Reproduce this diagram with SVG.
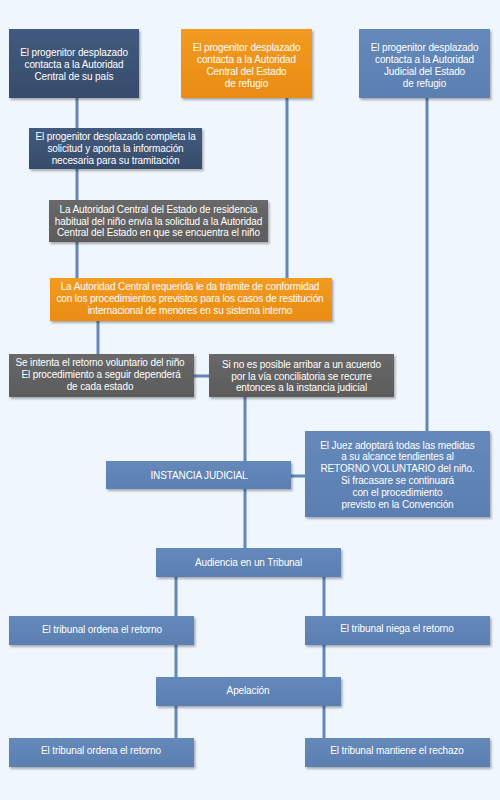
<svg xmlns="http://www.w3.org/2000/svg" width="500" height="800" viewBox="0 0 500 800">
<defs>
<filter id="sh" x="-10%" y="-10%" width="125%" height="140%">
<feDropShadow dx="1.5" dy="2" stdDeviation="1.2" flood-color="#000" flood-opacity="0.3"/>
</filter>
<linearGradient id="gNavy" x1="0" y1="0" x2="0" y2="1"><stop offset="0" stop-color="#425a7d"/><stop offset="1" stop-color="#374c6b"/></linearGradient>
<linearGradient id="gOrange" x1="0" y1="0" x2="0" y2="1"><stop offset="0" stop-color="#f39a22"/><stop offset="1" stop-color="#ea8c12"/></linearGradient>
<linearGradient id="gBlue" x1="0" y1="0" x2="0" y2="1"><stop offset="0" stop-color="#6489ba"/><stop offset="1" stop-color="#5a7fb0"/></linearGradient>
<linearGradient id="gGray" x1="0" y1="0" x2="0" y2="1"><stop offset="0" stop-color="#686868"/><stop offset="1" stop-color="#5c5c5c"/></linearGradient>
</defs>
<style>
.navy{fill:url(#gNavy);filter:url(#sh)}
.orange{fill:url(#gOrange);filter:url(#sh)}
.blue{fill:url(#gBlue);filter:url(#sh)}
.gray{fill:url(#gGray);filter:url(#sh)}
text{font-family:"Liberation Sans",Arial,sans-serif;font-size:10px;letter-spacing:-0.12px;fill:#ffffff;text-anchor:middle}
.c{stroke:#6487b8;stroke-width:3;fill:none}
</style>
<rect width="500" height="800" fill="#f0f6fe"/>
<g id="connectors">
<path class="c" d="M77 98V278"/>
<path class="c" d="M287 98V278"/>
<path class="c" d="M427 98V431"/>
<path class="c" d="M98 321V354"/>
<path class="c" d="M194 376H209"/>
<path class="c" d="M245 397V548"/>
<path class="c" d="M291 476H305"/>
<path class="c" d="M176 577V738"/>
<path class="c" d="M324 577V738"/>
</g>
<g id="n1"><rect class="navy" x="9" y="29" width="130" height="69"/>
<text x="74" y="56">El progenitor desplazado</text><text x="74" y="68">contacta a la Autoridad</text><text x="74" y="80">Central de su país</text></g>
<g id="n2"><rect class="orange" x="181" y="29" width="131" height="69"/>
<text x="246.5" y="51">El progenitor desplazado</text><text x="246.5" y="63">contacta a la Autoridad</text><text x="246.5" y="75">Central del Estado</text><text x="246.5" y="87">de refugio</text></g>
<g id="n3"><rect class="blue" x="359" y="29" width="131" height="69"/>
<text x="424.5" y="51">El progenitor desplazado</text><text x="424.5" y="63">contacta a la Autoridad</text><text x="424.5" y="75">Judicial del Estado</text><text x="424.5" y="87">de refugio</text></g>
<g id="n4"><rect class="navy" x="29" y="128" width="173" height="41"/>
<text x="115.5" y="140">El progenitor desplazado completa la</text><text x="115.5" y="152">solicitud y aporta la información</text><text x="115.5" y="164">necesaria para su tramitación</text></g>
<g id="n5"><rect class="gray" x="49" y="200" width="219" height="42"/>
<text x="158.5" y="212.7">La Autoridad Central del Estado de residencia</text><text x="158.5" y="224.5">habitual del niño envía la solicitud a la Autoridad</text><text x="158.5" y="236.3">Central del Estado en que se encuentra el niño</text></g>
<g id="n6"><rect class="orange" x="50" y="278" width="282" height="43"/>
<text x="190" y="289.5">La Autoridad Central requerida le da trámite de conformidad</text><text x="190" y="301.8">con los procedimientos previstos para los casos de restitución</text><text x="190" y="314">internacional de menores en su sistema interno</text></g>
<g id="n7"><rect class="gray" x="9" y="354" width="185" height="43"/>
<text x="100" y="366">Se intenta el retorno voluntario del niño</text><text x="101" y="378">El procedimiento a seguir dependerá</text><text x="100" y="390">de cada estado</text></g>
<g id="n8"><rect class="gray" x="209" y="354" width="185" height="43"/>
<text x="301.5" y="367.5">Si no es posible arribar a un acuerdo</text><text x="301.5" y="379.5">por la vía conciliatoria se recurre</text><text x="301.5" y="391">entonces a la instancia judicial</text></g>
<g id="n9"><rect class="blue" x="106" y="461" width="185" height="28"/>
<text x="199" y="479">INSTANCIA JUDICIAL</text></g>
<g id="n10"><rect class="blue" x="305" y="431" width="185" height="86"/>
<text x="397.5" y="448.5">El Juez adoptará todas las medidas</text><text x="397.5" y="460">a su alcance tendientes al</text><text x="397.5" y="472">RETORNO VOLUNTARIO del niño.</text><text x="397.5" y="484">Si fracasare se continuará</text><text x="397.5" y="495.8">con el procedimiento</text><text x="397.5" y="507.8">previsto en la Convención</text></g>
<g id="n11"><rect class="blue" x="156" y="548" width="185" height="29"/>
<text x="248.5" y="566">Audiencia en un Tribunal</text></g>
<g id="n12"><rect class="blue" x="9" y="616" width="185" height="29"/>
<text x="102" y="633">El tribunal ordena el retorno</text></g>
<g id="n13"><rect class="blue" x="305" y="616" width="185" height="29"/>
<text x="397" y="632">El tribunal niega el retorno</text></g>
<g id="n14"><rect class="blue" x="156" y="677" width="185" height="29"/>
<text x="248" y="693.5">Apelación</text></g>
<g id="n15"><rect class="blue" x="9" y="738" width="185" height="29"/>
<text x="101" y="754">El tribunal ordena el retorno</text></g>
<g id="n16"><rect class="blue" x="305" y="738" width="185" height="29"/>
<text x="397" y="754">El tribunal mantiene el rechazo</text></g>
</svg>
